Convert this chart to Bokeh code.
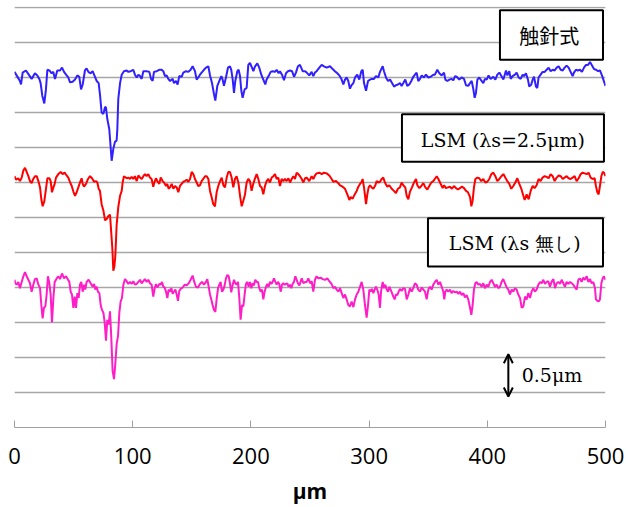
import numpy as np
from bokeh.plotting import figure
from bokeh.models import Range1d, FixedTicker, Grid, BoxAnnotation, Label, Arrow, OpenHead
from bokeh.embed import file_html
from bokeh.resources import INLINE

# ---------------- data (μm) ----------------
x_ticks = [0, 100, 200, 300, 400, 500]
grid_levels = [0.5, 1.0, 1.5, 2.0, 2.5, 3.0, 3.5, 4.0, 4.5, 5.0, 5.5, 6.0]
series_names = ["触針式", "LSM (λs=2.5μm)", "LSM (λs 無し)"]
baselines = [5.0, 3.5, 2.0]
scale_bar = [0.5, 1.0]
scale_text = "0.5μm"
x_title = "μm"

blue_x = [
    0.0, 1.8, 4.6, 5.5, 6.9, 9.7, 12.5, 14.5, 17.3, 19.3,
    21.0, 22.1, 23.5, 25.2, 26.6, 27.8, 29.5, 31.4, 32.8, 34.3,
    36.2, 38.5, 40.2, 41.9, 44.1, 45.5, 47.0, 49.2, 51.2, 53.2,
    54.8, 56.3, 57.7, 59.6, 61.0, 62.5, 64.4, 66.1, 68.1, 69.5,
    71.2, 72.3, 73.7, 75.2, 76.6, 77.4, 78.5, 80.2, 82.2, 83.6,
    85.0, 86.4, 87.0, 87.8, 89.3, 90.7, 92.6, 94.9, 96.3, 98.3,
    100.5, 101.9, 103.4, 104.8, 106.2, 107.6, 109.0, 111.8, 114.1, 115.5,
    116.9, 118.0, 120.3, 122.5, 124.5, 125.9, 127.3, 128.7, 130.1, 131.6,
    133.8, 134.9, 136.6, 138.0, 139.4, 141.4, 142.8, 145.1, 147.1, 149.0,
    150.7, 152.7, 154.1, 155.5, 156.9, 158.3, 160.3, 162.0, 164.0, 165.4,
    167.1, 168.8, 169.9, 171.6, 173.3, 175.0, 176.1, 177.2, 178.9, 180.6,
    182.3, 183.4, 184.6, 185.7, 186.8, 188.5, 189.6, 190.8, 191.9, 193.0,
    194.7, 196.4, 197.8, 199.2, 200.9, 202.1, 203.5, 205.4, 207.1, 208.8,
    210.5, 212.2, 213.3, 215.0, 216.7, 218.4, 220.4, 221.8, 223.5, 224.6,
    226.3, 228.0, 229.7, 231.4, 233.1, 234.8, 236.5, 238.1, 239.8, 241.5,
    243.8, 245.8, 247.2, 249.4, 251.4, 252.8, 254.2, 255.6, 257.9, 259.9,
    261.8, 264.1, 266.9, 269.2, 271.1, 273.1, 274.8, 276.8, 278.2, 279.6,
    281.0, 282.4, 283.8, 285.2, 286.7, 288.1, 290.0, 291.7, 293.4, 294.6,
    295.7, 297.4, 299.1, 300.8, 302.2, 304.1, 305.8, 307.8, 309.2, 311.5,
    312.6, 314.3, 316.0, 317.7, 319.4, 321.1, 322.7, 324.4, 326.1, 327.5,
    329.0, 330.6, 332.3, 334.0, 335.7, 337.4, 338.8, 340.2, 341.6, 343.1,
    344.5, 346.4, 348.1, 350.1, 352.1, 354.3, 355.7, 357.7, 359.4, 361.4,
    363.4, 364.5, 366.2, 367.9, 369.6, 371.3, 372.7, 374.1, 376.3, 378.3,
    380.3, 382.0, 383.9, 385.4, 386.8, 388.2, 389.3, 390.4, 391.6, 393.2,
    395.2, 396.6, 398.0, 399.5, 401.1, 402.8, 405.1, 406.8, 408.5, 410.2,
    411.9, 413.6, 415.8, 417.0, 418.6, 419.8, 421.4, 423.4, 424.8, 426.5,
    428.2, 429.9, 431.0, 432.7, 434.4, 435.5, 437.2, 438.4, 439.5, 441.2,
    442.3, 443.4, 445.1, 446.8, 448.5, 450.2, 451.9, 453.6, 455.3, 457.0,
    458.7, 460.4, 462.1, 463.8, 465.4, 467.1, 468.8, 470.5, 472.2, 473.3,
    475.0, 476.7, 478.4, 480.1, 481.8, 483.5, 485.2, 486.9, 488.6, 490.3,
    492.0, 493.7, 495.3, 497.0, 498.2, 500.0,
]
blue_dy = [
    0.08, 0.03, -0.05, -0.10, 0.07, 0.10, 0.03, -0.02, 0.06, 0.03,
    -0.02, -0.08, -0.26, -0.37, -0.17, 0.11, 0.10, 0.06, 0.08, -0.02,
    0.10, 0.10, 0.14, 0.08, 0.03, 0.00, -0.07, -0.06, -0.03, 0.03,
    0.01, -0.17, -0.10, 0.10, 0.13, 0.08, 0.06, 0.09, 0.01, -0.05,
    -0.08, -0.24, -0.50, -0.52, -0.42, -0.43, -0.59, -0.74, -1.19, -1.02,
    -0.92, -0.90, -0.74, -0.31, -0.08, 0.04, 0.09, 0.10, 0.08, 0.09,
    0.11, 0.04, 0.00, 0.04, 0.02, -0.02, 0.09, 0.09, 0.08, -0.02,
    -0.05, 0.08, 0.09, 0.11, 0.11, 0.09, 0.02, 0.03, -0.02, -0.05,
    -0.02, -0.08, -0.05, -0.10, 0.02, 0.01, 0.07, 0.09, 0.08, 0.11,
    0.16, 0.09, -0.03, 0.00, 0.04, 0.07, 0.11, 0.14, 0.16, 0.03,
    -0.08, -0.24, -0.33, -0.12, -0.05, 0.02, -0.03, -0.12, 0.00, 0.14,
    0.16, 0.11, -0.03, -0.22, -0.05, 0.09, 0.11, 0.02, -0.19, -0.29,
    -0.17, -0.15, 0.18, 0.21, 0.14, 0.09, 0.16, 0.20, 0.14, 0.04,
    -0.03, -0.10, -0.03, 0.02, 0.08, 0.09, 0.08, 0.11, 0.06, 0.09,
    0.04, -0.04, 0.06, 0.09, 0.10, 0.09, 0.01, 0.07, 0.16, 0.18,
    0.09, 0.09, 0.07, 0.03, 0.08, 0.02, 0.07, 0.09, 0.14, 0.18,
    0.16, 0.14, 0.16, 0.12, 0.09, 0.06, 0.03, -0.03, -0.10, -0.03,
    0.00, -0.05, -0.16, -0.11, -0.08, 0.00, 0.04, -0.03, 0.09, 0.11,
    -0.08, -0.19, -0.05, -0.03, -0.02, -0.02, 0.02, 0.00, 0.08, 0.16,
    0.09, 0.00, -0.05, -0.03, -0.08, -0.13, -0.11, -0.10, -0.08, -0.12,
    -0.08, -0.03, -0.12, -0.10, -0.05, 0.01, 0.04, 0.07, -0.05, -0.02,
    0.03, 0.00, 0.04, 0.00, 0.01, 0.04, 0.04, 0.11, 0.06, 0.03,
    0.07, -0.03, -0.05, -0.03, -0.02, -0.04, 0.02, 0.01, -0.03, 0.00,
    -0.02, -0.11, -0.12, -0.08, -0.05, -0.17, -0.29, -0.22, -0.03, 0.00,
    -0.05, -0.08, -0.02, -0.03, 0.03, -0.02, 0.01, -0.03, 0.04, 0.07,
    0.02, -0.03, 0.10, 0.03, 0.09, -0.02, 0.02, 0.04, 0.07, 0.00,
    -0.02, 0.04, 0.02, 0.06, -0.03, -0.13, -0.10, -0.03, 0.01, -0.13,
    -0.15, 0.00, 0.04, 0.08, 0.08, 0.11, 0.14, 0.09, 0.11, 0.10,
    0.14, 0.16, 0.11, 0.10, 0.14, 0.17, 0.14, 0.08, 0.02, 0.07,
    0.11, 0.10, 0.11, 0.08, 0.14, 0.18, 0.18, 0.22, 0.17, 0.12,
    0.11, 0.09, 0.10, 0.03, -0.03, -0.12,
]

red_x = [
    0.0, 1.3, 3.2, 4.6, 6.1, 7.5, 8.9, 10.3, 11.7, 13.1,
    14.5, 15.9, 17.3, 18.8, 20.2, 21.6, 22.7, 23.8, 25.2, 26.4,
    27.8, 29.5, 30.6, 31.7, 32.9, 34.0, 35.1, 37.1, 39.1, 40.7,
    42.4, 44.1, 45.5, 46.9, 48.4, 49.8, 51.2, 52.6, 54.0, 55.4,
    56.8, 57.7, 58.8, 60.5, 62.2, 63.9, 65.6, 67.3, 69.0, 70.1,
    71.2, 72.3, 73.7, 75.2, 76.6, 78.0, 79.4, 80.8, 82.2, 82.8,
    83.6, 84.5, 85.3, 86.4, 87.8, 89.3, 90.7, 91.5, 92.6, 94.9,
    96.3, 97.7, 99.1, 100.5, 101.9, 103.4, 104.8, 106.2, 107.6, 109.0,
    110.4, 111.8, 113.2, 114.6, 116.0, 117.4, 118.3, 119.7, 120.8, 122.5,
    123.7, 125.3, 126.5, 128.2, 129.3, 130.4, 131.6, 133.0, 134.4, 135.8,
    137.2, 138.6, 140.0, 141.4, 142.8, 144.2, 145.6, 147.1, 148.5, 149.9,
    151.3, 152.7, 154.1, 155.5, 156.9, 158.3, 159.7, 161.2, 162.6, 164.0,
    165.4, 166.8, 168.2, 169.6, 171.0, 172.4, 173.9, 175.3, 176.7, 178.1,
    179.5, 180.9, 182.3, 183.7, 185.1, 186.5, 187.9, 189.4, 190.8, 192.2,
    193.6, 195.0, 196.4, 197.8, 199.2, 200.6, 202.0, 203.5, 204.9, 206.3,
    207.7, 209.1, 210.5, 211.9, 213.3, 214.7, 216.1, 217.6, 219.0, 220.4,
    221.8, 223.2, 224.6, 226.0, 227.4, 228.8, 230.2, 231.7, 233.1, 234.5,
    235.9, 237.3, 238.7, 240.1, 241.5, 243.0, 244.4, 245.8, 247.2, 249.4,
    251.4, 252.8, 254.2, 255.6, 257.9, 259.9, 261.8, 264.1, 266.3, 268.3,
    269.7, 272.0, 274.0, 275.4, 277.6, 279.6, 281.6, 283.3, 284.4, 286.1,
    287.8, 289.5, 290.9, 292.3, 293.7, 294.5, 295.7, 297.4, 298.5, 299.6,
    300.8, 302.2, 303.6, 305.3, 306.4, 307.8, 309.2, 310.6, 312.0, 313.4,
    315.4, 317.1, 319.1, 321.0, 322.7, 324.4, 326.1, 327.5, 328.9, 330.6,
    331.8, 333.2, 334.6, 336.3, 338.0, 339.7, 340.8, 342.5, 344.2, 345.9,
    347.6, 349.3, 350.9, 352.6, 354.3, 356.0, 357.2, 358.6, 360.0, 362.2,
    363.4, 365.0, 366.7, 368.4, 370.1, 371.8, 373.5, 375.2, 376.9, 378.6,
    380.3, 382.0, 383.7, 385.4, 386.5, 387.6, 388.7, 389.9, 391.6, 393.2,
    394.9, 396.6, 398.3, 400.0, 401.7, 403.4, 405.1, 406.8, 408.5, 410.2,
    411.9, 413.6, 415.2, 416.9, 418.6, 420.3, 422.0, 423.7, 425.4, 427.1,
    428.8, 430.5, 431.6, 433.3, 435.0, 436.7, 438.4, 440.0, 441.7, 443.4,
    445.1, 446.8, 448.5, 450.2, 451.9, 453.6, 455.3, 457.0, 458.7, 460.4,
    462.1, 463.8, 465.4, 467.1, 468.8, 470.5, 472.2, 473.9, 475.6, 477.3,
    479.0, 480.7, 482.4, 484.1, 485.7, 487.4, 489.1, 490.8, 491.9, 493.1,
    494.2, 495.3, 496.5, 497.6, 498.7, 500.0,
]
red_dy = [
    0.09, 0.04, 0.06, 0.02, 0.07, 0.17, 0.21, 0.15, 0.09, 0.02,
    -0.01, 0.05, 0.09, 0.09, 0.02, -0.07, -0.24, -0.34, -0.27, -0.12,
    0.06, 0.06, 0.02, -0.14, -0.07, -0.02, 0.07, 0.12, 0.15, 0.12,
    0.14, 0.10, 0.07, 0.01, -0.05, -0.13, -0.19, -0.14, -0.07, 0.00,
    0.06, -0.02, -0.06, -0.02, 0.05, 0.09, 0.06, 0.01, 0.02, 0.00,
    -0.09, -0.12, -0.31, -0.40, -0.54, -0.52, -0.48, -0.46, -0.80, -0.95,
    -1.26, -1.20, -1.05, -0.61, -0.35, -0.19, -0.12, 0.00, 0.09, 0.06,
    0.07, 0.05, 0.08, 0.05, 0.09, 0.02, 0.10, 0.07, 0.05, 0.09,
    0.12, 0.09, 0.12, 0.07, 0.05, -0.06, 0.00, 0.06, 0.02, -0.02,
    0.07, 0.02, 0.00, -0.05, -0.02, -0.09, -0.07, -0.02, -0.09, -0.05,
    -0.07, -0.14, -0.05, -0.02, 0.01, 0.02, 0.04, 0.01, 0.05, 0.15,
    0.12, 0.05, 0.00, -0.05, -0.04, 0.02, 0.05, 0.09, 0.09, 0.05,
    -0.12, -0.21, -0.31, -0.34, -0.14, -0.05, 0.02, 0.07, -0.04, -0.07,
    0.07, 0.15, 0.15, 0.07, -0.07, 0.05, 0.09, 0.00, -0.19, -0.34,
    -0.26, -0.17, 0.00, 0.05, 0.02, -0.12, -0.02, 0.06, 0.12, 0.05,
    -0.05, -0.07, -0.17, -0.05, 0.02, 0.05, 0.00, 0.07, 0.09, 0.12,
    0.05, 0.07, -0.05, 0.05, 0.02, 0.05, 0.02, 0.06, 0.00, 0.05,
    0.09, 0.05, 0.14, 0.12, 0.09, 0.05, 0.00, 0.06, 0.07, 0.02,
    0.09, 0.05, 0.10, 0.13, 0.14, 0.12, 0.14, 0.13, 0.10, 0.05,
    0.01, 0.02, -0.01, -0.04, -0.06, -0.09, -0.17, -0.25, -0.21, -0.23,
    -0.17, -0.12, -0.06, -0.02, 0.01, 0.05, -0.07, -0.31, -0.17, -0.07,
    -0.04, -0.07, -0.09, -0.04, 0.02, 0.00, 0.01, 0.05, 0.07, 0.00,
    -0.06, -0.04, -0.09, -0.12, -0.15, -0.09, -0.07, 0.00, -0.04, -0.07,
    -0.19, -0.24, -0.13, -0.07, 0.00, 0.05, -0.04, -0.08, -0.05, -0.01,
    -0.07, -0.10, -0.05, 0.00, 0.02, 0.06, 0.09, 0.05, 0.00, -0.08,
    -0.04, -0.08, -0.07, -0.06, -0.09, -0.05, -0.08, -0.10, -0.08, -0.06,
    -0.08, -0.12, -0.14, -0.21, -0.34, -0.26, -0.07, 0.05, 0.07, 0.06,
    0.02, 0.05, 0.00, 0.01, 0.05, 0.12, 0.14, 0.09, 0.02, 0.05,
    0.09, 0.12, 0.07, 0.02, -0.02, -0.09, -0.05, 0.00, 0.06, -0.02,
    -0.09, -0.19, -0.25, -0.17, -0.24, -0.12, -0.05, -0.08, -0.04, 0.05,
    0.02, 0.07, 0.09, 0.08, 0.06, 0.12, 0.09, 0.02, 0.07, 0.10,
    0.09, 0.05, 0.07, 0.09, 0.06, 0.05, 0.07, 0.09, 0.02, 0.06,
    0.12, 0.14, 0.13, 0.12, 0.14, 0.07, 0.05, 0.06, -0.05, -0.14,
    -0.17, -0.05, 0.09, 0.15, 0.14, 0.09,
]

magenta_x = [
    0.0, 0.7, 1.8, 3.2, 4.6, 6.1, 7.5, 8.9, 10.3, 11.7,
    13.1, 14.5, 15.9, 17.3, 18.8, 20.2, 21.6, 22.7, 23.8, 24.9,
    26.1, 27.2, 28.3, 29.5, 30.6, 31.7, 32.9, 34.0, 35.7, 37.1,
    38.5, 40.2, 41.9, 43.6, 45.3, 46.4, 47.5, 48.6, 49.8, 50.9,
    52.0, 53.2, 54.3, 55.4, 56.5, 57.7, 58.8, 59.9, 61.0, 62.7,
    64.4, 66.1, 67.3, 68.4, 69.5, 70.6, 71.8, 72.9, 74.0, 75.2,
    76.3, 77.4, 78.5, 79.7, 80.8, 81.9, 83.0, 84.2, 85.3, 86.4,
    87.6, 88.7, 89.8, 90.9, 92.1, 93.5, 94.9, 96.3, 97.7, 99.1,
    100.5, 101.9, 103.4, 104.8, 106.2, 107.6, 109.0, 110.4, 111.8, 113.2,
    114.6, 116.0, 117.4, 118.6, 119.7, 120.8, 122.5, 123.7, 124.8, 125.9,
    127.0, 128.2, 129.3, 130.4, 131.6, 132.7, 133.8, 134.9, 136.1, 137.2,
    138.3, 139.4, 140.6, 142.3, 144.0, 145.6, 147.4, 149.0, 150.7, 151.9,
    153.5, 155.2, 156.9, 158.6, 160.3, 162.0, 163.1, 164.3, 165.4, 166.5,
    167.6, 168.8, 169.9, 171.0, 172.2, 173.3, 174.4, 175.5, 176.7, 177.8,
    178.9, 180.1, 181.2, 182.3, 183.4, 184.6, 185.7, 186.8, 187.9, 189.1,
    190.2, 191.3, 192.5, 193.6, 194.7, 195.8, 197.0, 198.1, 199.2, 200.4,
    201.5, 202.6, 203.7, 204.9, 206.0, 207.1, 208.3, 209.4, 210.5, 211.6,
    212.8, 213.9, 215.0, 216.2, 217.3, 218.4, 219.5, 220.7, 221.8, 222.9,
    224.0, 225.2, 226.3, 227.4, 228.6, 229.7, 230.8, 231.9, 233.1, 234.2,
    235.3, 236.4, 237.6, 238.7, 239.8, 241.0, 243.0, 244.4, 245.8, 247.2,
    248.6, 250.0, 251.4, 252.8, 254.2, 255.6, 257.0, 259.0, 260.7, 262.7,
    264.7, 266.3, 268.3, 269.7, 271.1, 272.6, 274.0, 275.4, 276.8, 278.2,
    279.6, 281.0, 282.4, 283.8, 285.2, 286.7, 288.1, 289.5, 290.9, 292.3,
    293.7, 295.1, 296.5, 297.9, 299.1, 300.2, 301.3, 302.4, 303.6, 304.7,
    305.8, 306.9, 308.1, 309.2, 310.1, 311.5, 312.6, 313.7, 314.9, 316.0,
    317.1, 318.2, 319.4, 320.5, 321.6, 322.7, 323.9, 325.0, 326.1, 327.5,
    328.9, 330.4, 331.8, 333.2, 334.6, 336.0, 337.4, 338.8, 340.2, 341.6,
    343.1, 344.5, 345.9, 347.3, 348.7, 350.1, 351.5, 352.9, 354.3, 355.7,
    357.2, 358.6, 360.0, 361.4, 362.8, 363.6, 364.5, 365.6, 367.0, 368.4,
    369.8, 371.2, 372.7, 374.1, 375.5, 376.9, 378.3, 379.7, 381.1, 382.5,
    383.9, 385.4, 386.5, 387.6, 388.7, 389.9, 391.0, 392.4, 393.8, 395.2,
    396.6, 398.0, 399.5, 400.9, 402.3, 403.7, 405.1, 406.5, 407.9, 409.3,
    410.7, 412.1, 413.5, 415.0, 416.4, 417.8, 419.2, 420.6, 422.0, 423.4,
    424.8, 426.2, 427.7, 429.1, 430.5, 431.9, 433.3, 434.7, 436.1, 437.5,
    438.9, 440.3, 441.7, 443.2, 444.6, 446.0, 447.4, 448.8, 450.2, 451.6,
    453.0, 454.4, 455.9, 457.3, 458.7, 460.1, 461.5, 462.9, 464.3, 465.7,
    467.1, 468.6, 470.0, 471.4, 472.8, 474.2, 475.6, 477.0, 478.4, 479.8,
    481.2, 482.6, 484.1, 485.5, 486.9, 488.3, 489.7, 491.1, 491.9, 493.1,
    494.2, 495.3, 496.5, 497.6, 498.7, 500.0,
]
magenta_dy = [
    0.11, 0.06, 0.04, 0.08, -0.01, 0.08, 0.16, 0.22, 0.16, 0.11,
    0.06, -0.06, 0.04, 0.12, 0.13, 0.04, -0.01, -0.25, -0.44, -0.29,
    -0.27, -0.10, 0.16, 0.06, -0.10, -0.50, -0.15, 0.08, 0.13, 0.16,
    0.12, 0.20, 0.13, 0.16, 0.11, 0.08, -0.06, -0.10, -0.29, -0.13,
    -0.29, -0.08, -0.15, 0.04, 0.08, -0.06, 0.04, -0.03, 0.08, 0.11,
    0.06, 0.01, 0.05, -0.03, 0.01, -0.06, -0.08, -0.25, -0.32, -0.36,
    -0.50, -0.76, -0.46, -0.53, -0.34, -0.72, -1.19, -1.31, -1.09, -0.81,
    -0.69, -0.36, -0.20, -0.15, 0.04, 0.12, 0.09, 0.05, 0.08, 0.05,
    0.09, 0.04, 0.05, 0.08, 0.11, 0.06, 0.09, 0.12, 0.08, 0.11,
    0.06, 0.04, -0.13, -0.01, 0.05, 0.00, 0.05, 0.04, 0.08, 0.01,
    0.00, -0.06, -0.15, -0.03, -0.06, -0.01, -0.09, -0.06, -0.03, -0.10,
    -0.19, -0.05, -0.02, 0.00, 0.04, 0.03, 0.06, 0.11, 0.17, 0.09,
    0.01, 0.00, 0.05, 0.08, 0.04, 0.08, 0.12, 0.01, -0.10, -0.17,
    -0.25, -0.32, -0.35, -0.17, -0.01, 0.04, 0.08, -0.06, -0.03, 0.03,
    0.13, 0.18, 0.16, 0.06, -0.07, 0.04, 0.11, 0.06, 0.04, 0.08,
    -0.15, -0.46, -0.25, -0.27, -0.10, 0.05, 0.08, 0.01, 0.08, -0.01,
    0.06, 0.03, 0.11, 0.08, 0.08, -0.01, -0.06, -0.03, -0.17, -0.06,
    0.01, 0.05, 0.01, 0.08, 0.05, 0.08, 0.13, 0.08, 0.04, 0.08,
    0.05, -0.06, 0.04, 0.06, 0.04, 0.05, 0.06, 0.01, 0.04, -0.01,
    0.05, 0.08, 0.16, 0.11, 0.06, 0.03, 0.13, 0.06, 0.08, 0.08,
    0.13, 0.06, 0.09, -0.06, 0.11, 0.16, 0.13, 0.14, 0.12, 0.11,
    0.13, 0.09, 0.05, -0.01, 0.01, -0.03, -0.06, -0.01, -0.08, -0.15,
    -0.10, -0.17, -0.25, -0.27, -0.20, -0.28, -0.17, -0.10, -0.06, 0.01,
    0.08, -0.03, -0.25, -0.43, -0.25, -0.03, -0.06, -0.02, -0.08, -0.03,
    0.01, -0.03, -0.10, -0.29, -0.06, 0.08, -0.01, 0.04, -0.03, -0.06,
    0.01, -0.03, -0.08, -0.13, -0.17, -0.10, -0.11, -0.06, -0.02, -0.05,
    -0.01, -0.02, -0.17, -0.10, -0.01, -0.06, -0.01, 0.06, 0.04, -0.03,
    -0.06, 0.00, -0.03, -0.06, -0.17, -0.03, 0.01, -0.03, 0.04, 0.08,
    0.11, 0.04, 0.08, 0.01, -0.06, -0.17, -0.06, -0.03, -0.06, -0.03,
    -0.08, -0.05, -0.07, -0.06, -0.09, -0.06, -0.11, -0.08, -0.14, -0.11,
    -0.17, -0.29, -0.39, -0.25, -0.03, 0.06, 0.08, 0.04, 0.05, 0.01,
    0.06, -0.01, 0.04, 0.01, 0.08, 0.11, 0.06, 0.01, 0.04, -0.01,
    0.01, 0.08, 0.12, 0.06, 0.00, -0.03, -0.10, -0.03, -0.06, -0.01,
    -0.03, -0.10, -0.15, -0.29, -0.27, -0.13, -0.17, -0.08, -0.15, -0.06,
    -0.01, -0.06, -0.03, 0.04, 0.08, 0.06, 0.11, 0.05, 0.08, 0.09,
    0.01, 0.08, 0.12, -0.01, 0.06, 0.08, 0.05, 0.11, 0.06, 0.01,
    0.08, 0.05, 0.08, 0.06, 0.04, 0.00, -0.03, 0.11, 0.13, 0.08,
    0.14, 0.11, 0.16, 0.08, 0.12, 0.06, 0.08, -0.01, -0.17, -0.19,
    -0.20, -0.17, 0.06, 0.13, 0.16, 0.11,
]

assert len(blue_x) == len(blue_dy), (len(blue_x), len(blue_dy))
assert len(red_x) == len(red_dy), (len(red_x), len(red_dy))
assert len(magenta_x) == len(magenta_dy), (len(magenta_x), len(magenta_dy))

# ---------------- figure ----------------
p = figure(width=633, height=507,
           x_range=Range1d(0, 500), y_range=Range1d(0, 6.014),
           output_backend="svg", toolbar_location=None,
           y_axis_location=None,
           min_border_left=14, min_border_right=28,
           min_border_top=6, min_border_bottom=76)
p.outline_line_color = None
p.background_fill_color = "white"
p.border_fill_color = "white"
p.xgrid.visible = False

p.add_layout(Grid(dimension=1, ticker=FixedTicker(ticks=grid_levels),
                  grid_line_color="#a6a6a6", grid_line_width=1.3))

ax = p.xaxis[0]
ax.ticker = FixedTicker(ticks=x_ticks)
ax.major_tick_in = 7
ax.major_tick_out = 0
ax.minor_tick_in = 0
ax.minor_tick_out = 0
ax.axis_line_color = "#a0a0a0"
ax.axis_line_width = 1
ax.major_tick_line_color = "#a0a0a0"
ax.major_label_text_font = "Open Sans"
ax.major_label_text_font_size = "22px"
ax.major_label_text_color = "#000000"
ax.major_label_standoff = 20
ax.axis_label = x_title
ax.axis_label_text_font = "Open Sans"
ax.axis_label_text_font_style = "bold"
ax.axis_label_text_font_size = "21px"
ax.axis_label_text_color = "#000000"
ax.axis_label_standoff = 10

colors = ["#3020ff", "#ff0000", "#ff1dc8"]
xs = [blue_x, red_x, magenta_x]
dys = [blue_dy, red_dy, magenta_dy]
for xv, dv, base, c in zip(xs, dys, baselines, colors):
    p.line(xv, base + np.array(dv), line_color=c, line_width=2)

# legend boxes (data-space placement)
boxes = [
    (410.7, 497.9, 5.254, 5.96, 452.4, 5.60, "Noto Sans CJK JP", "20px"),
    (327.8, 498.7, 3.795, 4.474, 413.2, 4.108, "DejaVu Serif", "19px"),
    (349.8, 497.9, 2.30, 2.99, 423.2, 2.636, "DejaVu Serif", "19px"),
]
for (l, r, b, t, tx, ty, font, fs), name in zip(boxes, series_names):
    p.add_layout(BoxAnnotation(left=l, right=r, bottom=b, top=t,
                               fill_color="white", fill_alpha=1.0,
                               line_color="black", line_width=2, line_alpha=1.0))
    p.add_layout(Label(x=tx, y=ty, text=name, text_align="center",
                       text_baseline="middle", text_font=font,
                       text_font_size=fs, text_color="black"))

# scale bar
p.add_layout(Arrow(x_start=417.8, y_start=scale_bar[0] - 0.057,
                   x_end=417.8, y_end=scale_bar[1] + 0.047,
                   start=OpenHead(size=9, line_width=2, line_color="black"),
                   end=OpenHead(size=9, line_width=2, line_color="black"),
                   line_width=2, line_color="black"))
p.add_layout(Label(x=429.1, y=0.744, text=scale_text, text_align="left",
                   text_baseline="middle", text_font="DejaVu Serif",
                   text_font_size="19px", text_color="black"))

open("out.html", "w").write(file_html(p, INLINE))
